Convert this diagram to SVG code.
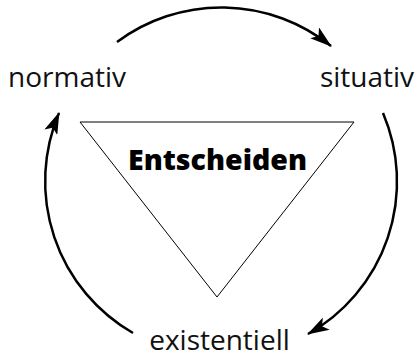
<svg xmlns="http://www.w3.org/2000/svg" width="416" height="360" viewBox="0 0 416 360">
<defs>
<style>
.lbl{font-family:"Open Sans","Noto Sans","Liberation Sans",sans-serif;font-size:28px;fill:#111}
.ttl{font-family:"Open Sans","Noto Sans","Liberation Sans",sans-serif;font-size:28.5px;font-weight:800;fill:#000}
.arc{fill:none;stroke:#000;stroke-width:2.5}
</style>
<marker id="ah" markerWidth="22" markerHeight="14" refX="21" refY="7" orient="auto" markerUnits="userSpaceOnUse">
<path d="M0,0 L22,7 L0,14 L5,7 Z" fill="#000"/>
</marker>
</defs>
<rect width="416" height="360" fill="#fff"/>
<g id="connectors">
<path class="arc" d="M117,42 A175,175 0 0 1 331,46" marker-end="url(#ah)"/>
<path class="arc" d="M383,113 A175,175 0 0 1 308,334" marker-end="url(#ah)"/>
<path class="arc" d="M133,333 A175,175 0 0 1 59,113" marker-end="url(#ah)"/>
</g>
<g id="entscheiden">
<polygon points="80,122 354,122 217,297" fill="none" stroke="#000" stroke-width="1"/>
<text class="ttl" x="217.5" y="170" text-anchor="middle">Entscheiden</text>
</g>
<g id="normativ"><text class="lbl" x="67" y="87" text-anchor="middle">normativ</text></g>
<g id="situativ"><text class="lbl" x="367" y="87" text-anchor="middle">situativ</text></g>
<g id="existentiell"><text class="lbl" x="219.5" y="350" text-anchor="middle">existentiell</text></g>
</svg>
